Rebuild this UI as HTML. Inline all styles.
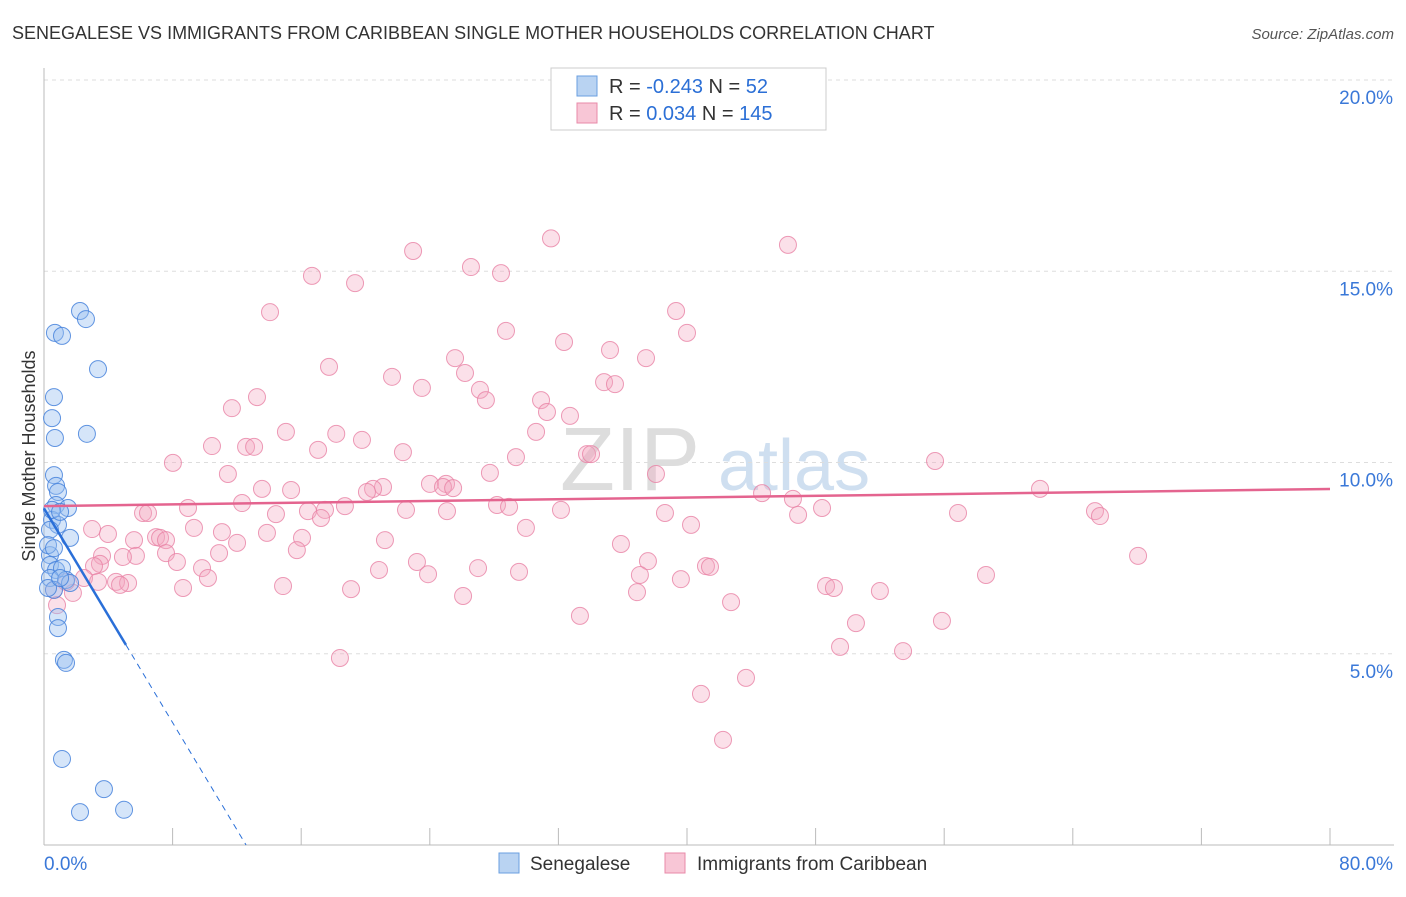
<!DOCTYPE html>
<html><head><meta charset="utf-8"><style>
body{margin:0;background:#fff;font-family:"Liberation Sans",sans-serif;}
svg text{font-family:"Liberation Sans",sans-serif;}
</style></head><body>
<svg width="1406" height="892" viewBox="0 0 1406 892">
<text x="12" y="39" font-size="18" fill="#333">SENEGALESE VS IMMIGRANTS FROM CARIBBEAN SINGLE MOTHER HOUSEHOLDS CORRELATION CHART</text>
<text x="1394" y="39" font-size="15" fill="#555" text-anchor="end" font-style="italic">Source: ZipAtlas.com</text>
<text x="560" y="490" font-size="90" fill="#ddd" font-family="Liberation Serif">ZIP</text>
<text x="718" y="490" font-size="72" fill="#cfdff0">atlas</text>
<g id="grid"></g>
<g id="axes"></g>
<g id="pts"></g>
<g id="trend"></g>
<text x="35" y="456" font-size="18" fill="#333" text-anchor="middle" transform="rotate(-90 35 456)">Single Mother Households</text>
<g>
<rect x="551" y="68" width="275" height="62" fill="#fff" stroke="#ccc"/>
<rect x="577" y="76" width="20" height="20" fill="#b9d3f2" stroke="#6a9fe0"/>
<rect x="577" y="103" width="20" height="20" fill="#f8c6d6" stroke="#e88aa8"/>
<text x="609" y="93" font-size="20" fill="#333">R = <tspan fill="#2b6fd6">-0.243</tspan>   N = <tspan fill="#2b6fd6"> 52</tspan></text>
<text x="609" y="120" font-size="20" fill="#333">R =  <tspan fill="#2b6fd6">0.034</tspan>   N = <tspan fill="#2b6fd6">145</tspan></text>
</g>
<g>
<rect x="499" y="853" width="20" height="20" fill="#b9d3f2" stroke="#6a9fe0"/>
<text x="530" y="870" font-size="19" fill="#333">Senegalese</text>
<rect x="665" y="853" width="20" height="20" fill="#f8c6d6" stroke="#e88aa8"/>
<text x="697" y="870" font-size="19" fill="#333">Immigrants from Caribbean</text>
</g>
</svg>
<script>
const yTicks=[5,10,15,20];
const yTickLabels=["5.0%","10.0%","15.0%","20.0%"];
const xTickLabels=["0.0%","80.0%"];
const blueX=[2.24,2.61,0.68,1.12,3.36,0.62,0.5,0.68,2.67,0.62,0.75,0.87,0.75,1.49,0.5,0.87,0.37,1.62,0.37,0.37,0.75,1.12,0.37,1.37,1.62,0.62,0.87,0.87,1.24,1.37,1.12,3.73,2.24,4.98,0.5,1.0,0.25,0.62,0.25,1.0];
const blueY=[13.96,13.75,13.39,13.31,12.44,11.71,11.16,10.64,10.75,9.67,9.39,9.23,8.89,8.81,8.5,8.37,8.24,8.03,7.58,7.32,7.19,7.24,6.98,6.93,6.85,6.67,5.96,5.67,4.84,4.76,2.25,1.46,0.86,0.92,8.76,8.71,7.84,7.76,6.72,6.98];
const pinkX=[31.54,46.28,22.96,26.56,28.43,16.67,19.35,14.06,39.32,40.0,28.74,32.35,35.21,37.45,25.57,17.73,26.19,21.65,34.84,35.52,23.51,27.12,13.25,27.49,30.92,11.69,31.29,32.72,18.18,15.05,30.61,19.78,10.45,12.57,13.07,17.05,22.33,29.36,33.78,34.03,8.02,55.43,11.44,27.74,38.07,24.01,25.01,24.82,25.45,21.09,20.47,20.09,15.37,13.56,61.96,44.67,46.59,12.32,18.72,28.18,28.93,8.96,17.48,16.42,22.52,25.07,32.16,48.4,65.38,6.16,6.47,14.43,17.23,38.63,46.91,56.86,65.69,2.99,9.33,40.25,29.98,3.98,11.07,13.87,6.97,7.22,7.59,5.6,16.05,21.21,12.01,35.89,15.73,3.61,5.72,7.59,10.89,4.91,68.06,8.27,3.48,23.2,3.11,37.57,9.83,41.18,41.43,20.84,27.0,29.55,23.89,37.07,58.6,2.49,10.2,4.48,5.23,4.73,3.36,39.62,14.87,8.65,48.65,49.14,52.0,19.1,36.89,26.07,1.8,0.62,1.37,0.81,42.74,33.34,50.51,55.86,49.52,53.44,18.41,40.87,43.67,42.24];
const pinkY=[15.86,15.69,15.53,15.11,14.95,14.88,14.69,13.93,13.96,13.39,13.44,13.15,12.94,12.73,12.73,12.5,12.34,12.24,12.1,12.05,11.95,11.9,11.71,11.63,11.63,11.42,11.32,11.22,10.75,10.8,10.8,10.59,10.43,10.41,10.41,10.33,10.27,10.14,10.22,10.22,9.99,10.04,9.7,9.73,9.7,9.44,9.44,9.36,9.33,9.36,9.31,9.23,9.28,9.31,9.31,9.2,9.05,8.94,8.86,8.89,8.84,8.81,8.76,8.73,8.76,8.73,8.76,8.81,8.73,8.68,8.68,8.65,8.55,8.68,8.63,8.68,8.6,8.26,8.29,8.37,8.29,8.13,8.18,8.16,8.05,8.03,7.97,7.97,8.03,7.97,7.9,7.87,7.71,7.56,7.56,7.63,7.63,7.53,7.56,7.4,7.35,7.4,7.29,7.42,7.24,7.29,7.27,7.19,7.24,7.14,7.08,7.06,7.06,6.98,6.98,6.88,6.85,6.8,6.88,6.95,6.77,6.72,6.77,6.72,6.64,6.69,6.61,6.51,6.59,6.67,6.88,6.27,6.35,5.99,5.8,5.86,5.18,5.07,4.89,3.95,4.37,2.75];
const blueTrend=[8.8,-0.70];
const pinkTrend=[8.86,0.0056];
const NS="http://www.w3.org/2000/svg";
const X=v=>44+v*1286/80, Y=v=>845-v*38.25;
function mk(tag,attrs,parent){const e=document.createElementNS(NS,tag);for(const k in attrs)e.setAttribute(k,attrs[k]);parent.appendChild(e);return e;}
const grid=document.getElementById('grid'),axes=document.getElementById('axes'),pts=document.getElementById('pts'),tr=document.getElementById('trend');
yTicks.forEach((t,i)=>{
 const l=mk('line',{x1:44,x2:1394,y1:Y(t),y2:Y(t),stroke:'#ddd','stroke-dasharray':'4,4'},grid);
 
 
 const tx=mk('text',{x:1393,y:Y(t)+24,'font-size':19,fill:'#3a78d8','text-anchor':'end'},axes);
 tx.textContent=yTickLabels[i];
 
 
});
const ax=mk('line',{x1:44,x2:44,y1:68,y2:845,stroke:'#bbb'},axes);


const bx=mk('line',{x1:44,x2:1394,y1:845,y2:845,stroke:'#bbb'},axes);


for(let i=1;i<=10;i++){
 const t=mk('line',{x1:X(i*8),x2:X(i*8),y1:828,y2:845,stroke:'#bbb'},axes);
 
 
}
[[0,'start',44],[80,'end',1393]].forEach((d,i)=>{
 const t=mk('text',{x:d[2],y:870,'font-size':19,fill:'#3a78d8','text-anchor':d[1]},axes);
 t.textContent=xTickLabels[i];
 
 
});
pinkX.forEach((x,i)=>{
 const c=mk('circle',{cx:X(x),cy:Y(pinkY[i]),r:8.5,fill:'rgba(244,166,192,0.35)',stroke:'rgba(232,130,165,0.8)','stroke-width':1},pts);
 
 
});
blueX.forEach((x,i)=>{
 const c=mk('circle',{cx:X(x),cy:Y(blueY[i]),r:8.5,fill:'rgba(150,190,240,0.4)',stroke:'rgba(70,130,220,0.85)','stroke-width':1},pts);
 
 
});
const bEnd=5.1,bZero=-blueTrend[0]/blueTrend[1];
const b1=mk('line',{x1:X(0),y1:Y(blueTrend[0]),x2:X(bEnd),y2:Y(blueTrend[0]+blueTrend[1]*bEnd),stroke:'#2a6fd8','stroke-width':2.5},tr);


const b2=mk('line',{x1:X(bEnd),y1:Y(blueTrend[0]+blueTrend[1]*bEnd),x2:X(bZero),y2:Y(0),stroke:'#2a6fd8','stroke-width':1,'stroke-dasharray':'6,5'},tr);


const p1=mk('line',{x1:X(0),y1:Y(pinkTrend[0]),x2:X(80),y2:Y(pinkTrend[0]+pinkTrend[1]*80),stroke:'#e4648f','stroke-width':2.5},tr);


</script>
</body></html>
